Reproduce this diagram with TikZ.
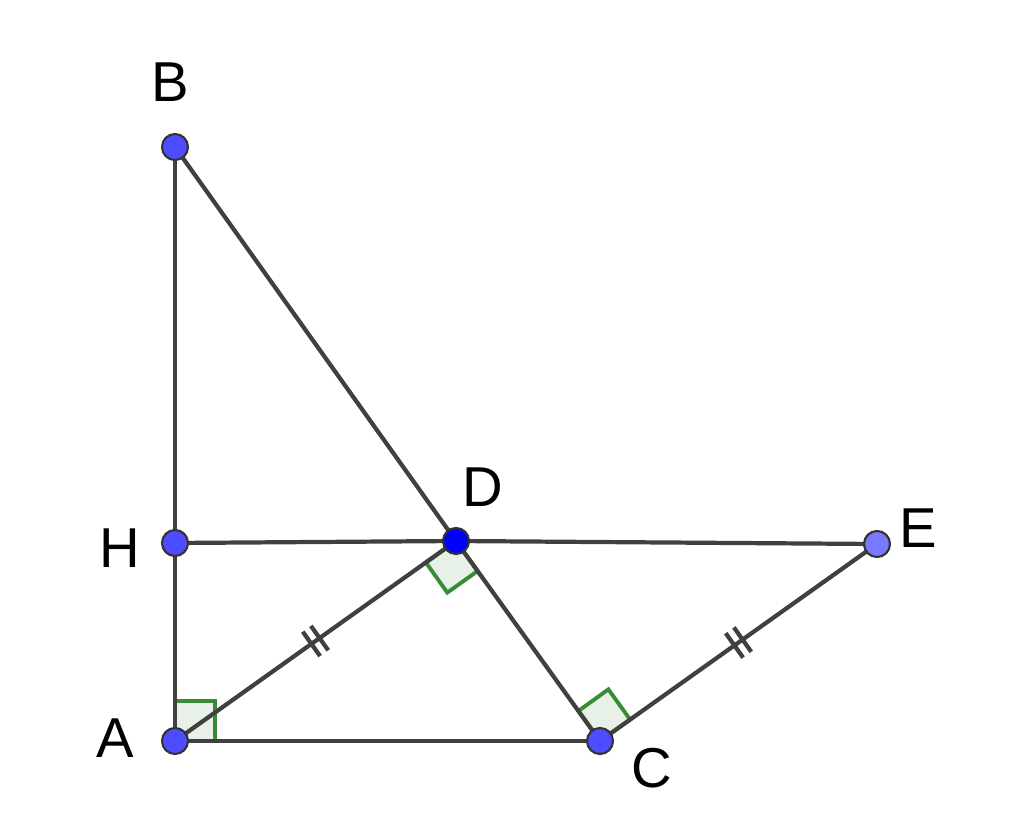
\documentclass[tikz,border=0pt]{standalone}
\usepackage{fontspec}
\setmainfont{Liberation Sans}
\usetikzlibrary{calc}
\definecolor{ptblue}{RGB}{77,77,255}
\definecolor{segcol}{RGB}{64,64,64}
\definecolor{angcol}{RGB}{56,140,56}
\tikzset{
  seg/.style={draw=segcol, line width=1.2pt},
  pt/.style={circle, draw=black!80, line width=0.6pt, fill=ptblue, inner sep=0pt, minimum size=0.26cm},
  lbl/.style={font=\fontsize{16}{18}\selectfont},
  rangle/.style={draw=angcol, line width=1.1pt, fill=angcol!12}
}
\begin{document}
\begin{tikzpicture}
  \useasboundingbox (0,0) rectangle (10.24,8.39);
  % points
  \coordinate (A) at (1.75,0.98);
  \coordinate (B) at (1.75,6.92);
  \coordinate (C) at (6.00,0.98);
  \coordinate (D) at (4.56,2.98);
  \coordinate (E) at (8.77,2.95);
  \coordinate (H) at (1.75,2.96);
  % right angles
  \draw[rangle] (A) -- ($(A)!0.4cm!(C)$) -- ($(A)!0.4cm!(C)!0.4cm!90:(C)$) -- ($(A)!0.4cm!(B)$) -- cycle;
  \draw[rangle] (D) -- ($(D)!0.37cm!(A)$) -- ($(D)!0.37cm!(A)!0.37cm!90:(A)$) -- ($(D)!0.37cm!(C)$) -- cycle;
  \draw[rangle] (C) -- ($(C)!0.37cm!(D)$) -- ($(C)!0.37cm!(D)!0.37cm!-90:(D)$) -- ($(C)!0.37cm!(E)$) -- cycle;
  % segments
  \draw[seg] (B) -- (H) -- (A) -- (C);
  \draw[seg] (B) -- (D) -- (C) -- (E) -- (D) -- (H);
  \draw[seg] (A) -- (D);
  % equal marks
  \foreach \p/\q in {A/D, C/E}
  {
    \foreach \s in {-0.05,0.05}
      \draw[seg] ($($(\p)!0.5!(\q)$)!\s cm!(\q)!0.15cm!90:(\q)$) -- ($($(\p)!0.5!(\q)$)!\s cm!(\q)!0.15cm!-90:(\q)$);
  }
  % dots
  \node[pt] (nA) at (A) {};
  \node[pt] (nB) at (B) {};
  \node[pt] (nC) at (C) {};
  \node[pt, fill=blue] (nD) at (D) {};
  \node[pt, fill=ptblue!75!white] (nE) at (E) {};
  \node[pt] (nH) at (H) {};
  % labels
  \node[lbl] (lB) at (1.70,7.57) {B};
  \node[lbl] (lH) at (1.20,2.91) {H};
  \node[lbl] (lA) at (1.15,1.01) {A};
  \node[lbl] (lC) at (6.52,0.71) {C};
  \node[lbl] (lD) at (4.83,3.52) {D};
  \node[lbl] (lE) at (9.18,3.11) {E};
\end{tikzpicture}
\end{document}
